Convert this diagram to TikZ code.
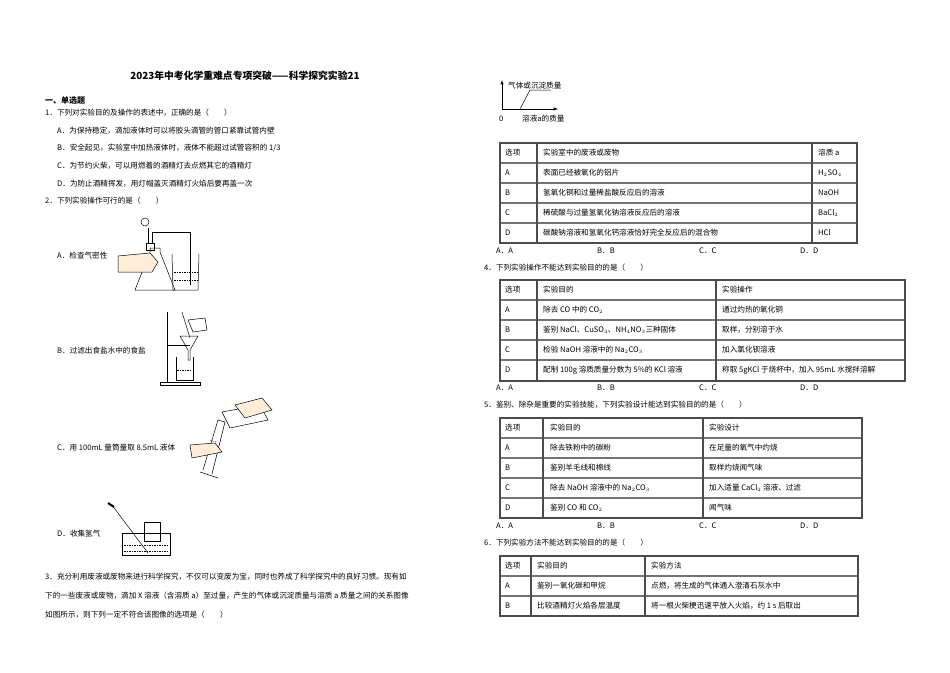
\documentclass[tikz,border=0pt]{standalone}
\usepackage{fontspec}
\setmainfont{Liberation Serif}
\newfontfamily\cjk{Noto Sans CJK SC}
\begin{document}
\begin{tikzpicture}[x=1pt,y=-1pt,
  tx/.style={anchor=west,inner sep=0pt,font=\cjk\fontsize{7.6}{8}\selectfont},
  tb/.style={draw=black!70,line width=1.3pt},
  tl/.style={draw=black!55,line width=1.1pt},
  app/.style={draw=black,line width=0.5pt},
  liq/.style={draw=black,line width=0.4pt,dash pattern=on 1.5pt off 1pt}]
\useasboundingbox (0,0) rectangle (950,672);
% title
\node[anchor=center,inner sep=0pt,font=\cjk\bfseries\fontsize{9.8}{10}\selectfont] (title) at (245,76) {2023年中考化学重难点专项突破——科学探究实验21};
\node[tx,font=\cjk\bfseries\fontsize{8}{9}\selectfont] (sec) at (45,101) {一、单选题};
\node[tx] (q1) at (45,113) {1．下列对实验目的及操作的表述中，正确的是（　　）};
\node[tx] (q1a) at (57,131) {A．为保持稳定，滴加液体时可以将胶头滴管的管口紧靠试管内壁};
\node[tx] (q1b) at (57,148) {B．安全起见，实验室中加热液体时，液体不能超过试管容积的 1/3};
\node[tx] (q1c) at (57,166) {C．为节约火柴，可以用燃着的酒精灯去点燃其它的酒精灯};
\node[tx] (q1d) at (57,184) {D．为防止酒精挥发，用灯帽盖灭酒精灯火焰后要再盖一次};
\node[tx] (q2) at (45,201) {2．下列实验操作可行的是（　　）};
\node[tx] (q2a) at (57,256) {A．检查气密性};
\node[tx] (q2b) at (57,351) {B．过滤出食盐水中的食盐};
\node[tx] (q2c) at (57,448) {C．用 100mL 量筒量取 8.5mL 液体};
\node[tx] (q2d) at (57,534) {D．收集氢气};
% fig A
\draw[app] (135,290) -- (150,252) -- (150,248) -- (160,248) -- (160,252) -- (175,290) -- cycle;
\draw[app] (146,250) rectangle (154,243);
\draw[app] (148,243) -- (148,228); \draw[app] (145,222) circle (4pt);
\draw[app] (152,243) -- (152,232) -- (190,232) -- (190,285);
\draw[app,fill=orange!15] (118,256) -- (150,253) -- (158,262) -- (152,272) -- (118,272) -- cycle;
\draw[app] (172,254) -- (173,290) -- (198,290) -- (199,254);
\draw[liq] (174,272) -- (197,272); \draw[liq] (174,280) -- (197,280);
% fig B
\draw[app] (167,312) -- (167,382); \draw[app] (160,382) rectangle (200,385);
\draw[app] (167,345) -- (190,345);
\draw[app] (180,336) -- (198,336) -- (190,350) -- (190,360) -- (188,360) -- (188,350) -- cycle;
\draw[app] (176,357) -- (176,380) -- (193,380) -- (193,357);
\draw[liq] (177,370) -- (192,370);
\draw[app] (182,312) -- (190,338);
\draw[app] (188,320) -- (205,318) -- (207,330) -- (193,332) -- cycle;
% fig C
\draw[app] (200,472) -- (218,478); \draw[app] (203,470) -- (218,420) -- (225,422) -- (212,474);
\draw[liq] (210,440) -- (216,442);
\draw[app,fill=orange!15] (190,445) -- (215,443) -- (222,452) -- (192,458) -- cycle;
\draw[app] (222,412) -- (260,405) -- (268,420) -- (230,428) -- cycle;
\draw[app,fill=orange!15] (235,405) -- (262,398) -- (272,410) -- (245,418) -- cycle;
% fig D
\draw[app] (122,533) rectangle (170,555);
\draw[liq] (124,545) -- (168,545); \draw[liq] (124,551) -- (168,551);
\draw[app] (144,522) rectangle (160,541);
\draw[app] (112,505) -- (148,553); \draw[app,line width=2pt] (108,503) -- (114,507);
% Q3
\node[tx] (q3a) at (45,577) {3．充分利用废液或废物来进行科学探究，不仅可以变废为宝，同时也养成了科学探究中的良好习惯。现有如};
\node[tx] (q3b) at (45,596) {下的一些废液或废物，滴加 X 溶液（含溶质 a）至过量，产生的气体或沉淀质量与溶质 a 质量之间的关系图像};
\node[tx] (q3c) at (45,615) {如图所示，则下列一定不符合该图像的选项是（　　）};
% graph
\coordinate (o) at (502,109);
\draw[app,-latex] (o) -- (502,80);
\draw[app,-latex] (o) -- (558,109);
\draw[app] (520,109) -- (530,90) -- (551,90);
\node[tx] (gy) at (508,86) {气体或沉淀质量};
\node[tx] (g0) at (499,119) {0};
\node[tx] (gx) at (522,119) {溶液a的质量};
% Table 1
\foreach \y in {163,183,203,223} \draw[tl] (500,\y) -- (857,\y);
\draw[tb] (500,143) rectangle (857,243);
\draw[tb] (537,143) -- (537,243); \draw[tb] (812,143) -- (812,243);
\node[tx] at (505,153) {选项}; \node[tx] at (543,153) {实验室中的废液或废物}; \node[tx] at (818,153) {溶质 a};
\node[tx] at (505,173) {A}; \node[tx] at (543,173) {表面已经被氧化的铝片}; \node[tx] at (818,173) {H$_2$SO$_4$};
\node[tx] at (505,193) {B}; \node[tx] at (543,193) {氢氧化铜和过量稀盐酸反应后的溶液}; \node[tx] at (818,193) {NaOH};
\node[tx] at (505,213) {C}; \node[tx] at (543,213) {稀硫酸与过量氢氧化钠溶液反应后的溶液}; \node[tx] at (818,213) {BaCl$_2$};
\node[tx] at (505,233) {D}; \node[tx] at (543,233) {碳酸钠溶液和氢氧化钙溶液恰好完全反应后的混合物}; \node[tx] at (818,233) {HCl};
\foreach \x/\t in {496/A．A,597/B．B,699/C．C,800/D．D} \node[tx] at (\x,251) {\t};
% Q4
\node[tx] (q4) at (484,268) {4．下列实验操作不能达到实验目的的是（　　）};
\foreach \y in {300,320,340,360} \draw[tl] (500,\y) -- (905,\y);
\draw[tb] (500,280) rectangle (905,381);
\draw[tb] (537,280) -- (537,381); \draw[tb] (716,280) -- (716,381);
\node[tx] at (505,290) {选项}; \node[tx] at (543,290) {实验目的}; \node[tx] at (722,290) {实验操作};
\node[tx] at (505,310) {A}; \node[tx] at (543,310) {除去 CO 中的 CO$_2$}; \node[tx] at (722,310) {通过灼热的氧化铜};
\node[tx] at (505,330) {B}; \node[tx] at (543,330) {鉴别 NaCl、CuSO$_4$、NH$_4$NO$_3$三种固体}; \node[tx] at (722,330) {取样，分别溶于水};
\node[tx] at (505,350) {C}; \node[tx] at (543,350) {检验 NaOH 溶液中的 Na$_2$CO$_3$}; \node[tx] at (722,350) {加入氯化钡溶液};
\node[tx] at (505,370) {D}; \node[tx] at (543,370) {配制 100g 溶质质量分数为 5\%的 KCl 溶液}; \node[tx] at (722,370) {称取 5gKCl 于烧杯中，加入 95mL 水搅拌溶解};
\foreach \x/\t in {496/A．A,597/B．B,699/C．C,800/D．D} \node[tx] at (\x,388) {\t};
% Q5
\node[tx] (q5) at (484,405) {5．鉴别、除杂是重要的实验技能，下列实验设计能达到实验目的的是（　　）};
\foreach \y in {438,458,478,498} \draw[tl] (500,\y) -- (862,\y);
\draw[tb] (500,418) rectangle (862,518);
\draw[tb] (543,418) -- (543,518); \draw[tb] (703,418) -- (703,518);
\node[tx] at (505,428) {选项}; \node[tx] at (550,428) {实验目的}; \node[tx] at (709,428) {实验设计};
\node[tx] at (505,448) {A}; \node[tx] at (550,448) {除去铁粉中的碳粉}; \node[tx] at (709,448) {在足量的氧气中灼烧};
\node[tx] at (505,468) {B}; \node[tx] at (550,468) {鉴别羊毛线和棉线}; \node[tx] at (709,468) {取样灼烧闻气味};
\node[tx] at (505,488) {C}; \node[tx] at (550,488) {除去 NaOH 溶液中的 Na$_2$CO$_3$}; \node[tx] at (709,488) {加入适量 CaCl$_2$ 溶液、过滤};
\node[tx] at (505,508) {D}; \node[tx] at (550,508) {鉴别 CO 和 CO$_2$}; \node[tx] at (709,508) {闻气味};
\foreach \x/\t in {496/A．A,597/B．B,699/C．C,800/D．D} \node[tx] at (\x,526) {\t};
% Q6
\node[tx] (q6) at (484,543) {6．下列实验方法不能达到实验目的的是（　　）};
\foreach \y in {576,596} \draw[tl] (500,\y) -- (858,\y);
\draw[tb] (500,556) rectangle (858,616);
\draw[tb] (531,556) -- (531,616); \draw[tb] (645,556) -- (645,616);
\node[tx] at (505,566) {选项}; \node[tx] at (537,566) {实验目的}; \node[tx] at (651,566) {实验方法};
\node[tx] at (505,586) {A}; \node[tx] at (537,586) {鉴别一氧化碳和甲烷}; \node[tx] at (651,586) {点燃，将生成的气体通入澄清石灰水中};
\node[tx] at (505,606) {B}; \node[tx] at (537,606) {比较酒精灯火焰各层温度}; \node[tx] at (651,606) {将一根火柴梗迅速平放入火焰，约 1 s 后取出};
\end{tikzpicture}
\end{document}
